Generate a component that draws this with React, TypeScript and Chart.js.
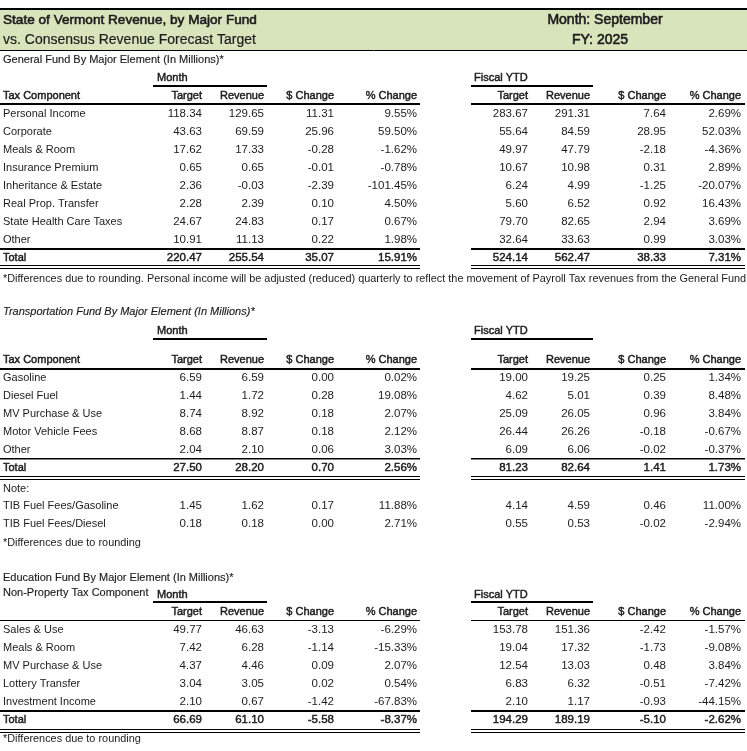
import React, { useEffect, useRef } from "react";
import { Chart, registerables } from "chart.js";

Chart.register(...registerables);

const W = 747;
const H = 751;

// ---------- Header ----------
const titleLines = ["State of Vermont Revenue, by Major Fund", "vs. Consensus Revenue Forecast Target"];
const periodLines = ["Month: September", "FY: 2025"];
const colHeaders = ["Target", "Revenue", "$ Change", "% Change"];

// ---------- General Fund ----------
const gfTitle = "General Fund By Major Element (In Millions)*";
const gfCategories = ["Personal Income", "Corporate", "Meals & Room", "Insurance Premium", "Inheritance & Estate", "Real Prop. Transfer", "State Health Care Taxes", "Other", "Total"];
const gfMonthTarget = [118.34, 43.63, 17.62, 0.65, 2.36, 2.28, 24.67, 10.91, 220.47];
const gfMonthRevenue = [129.65, 69.59, 17.33, 0.65, -0.03, 2.39, 24.83, 11.13, 255.54];
const gfMonthChange = [11.31, 25.96, -0.28, -0.01, -2.39, 0.10, 0.17, 0.22, 35.07];
const gfMonthPct = [9.55, 59.50, -1.62, -0.78, -101.45, 4.50, 0.67, 1.98, 15.91];
const gfYtdTarget = [283.67, 55.64, 49.97, 10.67, 6.24, 5.60, 79.70, 32.64, 524.14];
const gfYtdRevenue = [291.31, 84.59, 47.79, 10.98, 4.99, 6.52, 82.65, 33.63, 562.47];
const gfYtdChange = [7.64, 28.95, -2.18, 0.31, -1.25, 0.92, 2.94, 0.99, 38.33];
const gfYtdPct = [2.69, 52.03, -4.36, 2.89, -20.07, 16.43, 3.69, 3.03, 7.31];
const gfFootnote = "*Differences due to rounding. Personal income will be adjusted (reduced) quarterly to reflect the movement of Payroll Tax revenues from the General Fund to the Education Fund.";

// ---------- Transportation Fund ----------
const tfTitle = "Transportation Fund By Major Element (In Millions)*";
const tfCategories = ["Gasoline", "Diesel Fuel", "MV Purchase & Use", "Motor Vehicle Fees", "Other", "Total"];
const tfMonthTarget = [6.59, 1.44, 8.74, 8.68, 2.04, 27.50];
const tfMonthRevenue = [6.59, 1.72, 8.92, 8.87, 2.10, 28.20];
const tfMonthChange = [0.00, 0.28, 0.18, 0.18, 0.06, 0.70];
const tfMonthPct = [0.02, 19.08, 2.07, 2.12, 3.03, 2.56];
const tfYtdTarget = [19.00, 4.62, 25.09, 26.44, 6.09, 81.23];
const tfYtdRevenue = [19.25, 5.01, 26.05, 26.26, 6.06, 82.64];
const tfYtdChange = [0.25, 0.39, 0.96, -0.18, -0.02, 1.41];
const tfYtdPct = [1.34, 8.48, 3.84, -0.67, -0.37, 1.73];
const tibNote = "Note:";
const tibCategories = ["TIB Fuel Fees/Gasoline", "TIB Fuel Fees/Diesel"];
const tibMonthTarget = [1.45, 0.18];
const tibMonthRevenue = [1.62, 0.18];
const tibMonthChange = [0.17, 0.00];
const tibMonthPct = [11.88, 2.71];
const tibYtdTarget = [4.14, 0.55];
const tibYtdRevenue = [4.59, 0.53];
const tibYtdChange = [0.46, -0.02];
const tibYtdPct = [11.00, -2.94];
const roundingNote = "*Differences due to rounding";

// ---------- Education Fund ----------
const efTitle = "Education Fund By Major Element (In Millions)*";
const efSubTitle = "Non-Property Tax Component";
const efCategories = ["Sales & Use", "Meals & Room", "MV Purchase & Use", "Lottery Transfer", "Investment Income", "Total"];
const efMonthTarget = [49.77, 7.42, 4.37, 3.04, 2.10, 66.69];
const efMonthRevenue = [46.63, 6.28, 4.46, 3.05, 0.67, 61.10];
const efMonthChange = [-3.13, -1.14, 0.09, 0.02, -1.42, -5.58];
const efMonthPct = [-6.29, -15.33, 2.07, 0.54, -67.83, -8.37];
const efYtdTarget = [153.78, 19.04, 12.54, 6.83, 2.10, 194.29];
const efYtdRevenue = [151.36, 17.32, 13.03, 6.32, 1.17, 189.19];
const efYtdChange = [-2.42, -1.73, 0.48, -0.51, -0.93, -5.10];
const efYtdPct = [-1.57, -9.08, 3.84, -7.42, -44.15, -2.62];

// ---------- Styling / layout ----------
const FAM = "'Liberation Sans', Arial, sans-serif";
const F_BODY = `11px ${FAM}`;
const F_NUM = `11.5px ${FAM}`;
const F_NOTE = `10.9px ${FAM}`;
const F_ITAL = `italic 11px ${FAM}`;
const F_TITLE = `14px ${FAM}`;
const F_TITLE1 = `13.6px ${FAM}`;
const MED = 0.45; // stroke width to emulate a medium weight
const TEXT = "#1c1c1c";
const GREEN = "#D8E4BC";
const COL_RIGHT = [202, 264, 334, 417, 528, 590, 666, 741];
const LABEL_X = 3;
const ROW_H = 18;

type Item = { x: number; y: number; text: string; align: CanvasTextAlign; font: string; stroke: number };
type Line = { x1: number; x2: number; top: number; w: number };

const fmt = (v: number) => v.toFixed(2);
const pct = (v: number) => v.toFixed(2) + "%";

function buildLayout() {
  const items: Item[] = [];
  const lines: Line[] = [];
  const put = (x: number, y: number, text: string, align: CanvasTextAlign, font: string, stroke = 0) =>
    items.push({ x, y, text, align, font, stroke });
  const splitLine = (top: number, w: number) => {
    lines.push({ x1: 0, x2: 420, top, w });
    lines.push({ x1: 471, x2: 745, top, w });
  };
  const dataRows = (y0: number, cats: string[], cols: number[][], totalIdx: number) => {
    cats.forEach((c, i) => {
      const y = y0 + i * ROW_H;
      const s = i === totalIdx ? MED : 0;
      put(LABEL_X, y, c, "left", F_BODY, s);
      cols.forEach((col, k) => {
        const t = k % 4 === 3 ? pct(col[i]) : fmt(col[i]);
        put(COL_RIGHT[k], y, t, "right", F_NUM, s);
      });
    });
  };
  const periodHead = (y: number, lineTop: number, lw: number) => {
    put(157, y, "Month", "left", F_BODY, MED);
    put(474, y, "Fiscal YTD", "left", F_BODY, MED);
    lines.push({ x1: 153, x2: 267, top: lineTop, w: lw });
    lines.push({ x1: 471, x2: 593, top: lineTop, w: lw });
  };
  const colHead = (y: number, withLabel: boolean) => {
    if (withLabel) put(LABEL_X, y, "Tax Component", "left", F_BODY, MED);
    COL_RIGHT.forEach((x, k) => put(x, y, colHeaders[k % 4], "right", F_BODY, MED));
  };

  // Banner
  lines.push({ x1: 0, x2: W, top: 8, w: 2 });
  lines.push({ x1: 0, x2: W, top: 50, w: 1 });
  put(LABEL_X, 20, titleLines[0], "left", F_TITLE1, 0.6);
  put(LABEL_X, 40, titleLines[1], "left", F_TITLE, 0.2);
  put(605, 20, periodLines[0], "center", F_TITLE, 0.6);
  put(600, 40, periodLines[1], "center", F_TITLE, 0.6);

  // General Fund
  put(LABEL_X, 60, gfTitle, "left", F_BODY, 0.15);
  periodHead(78, 85, 2);
  colHead(96, true);
  splitLine(103, 2);
  dataRows(114, gfCategories, [gfMonthTarget, gfMonthRevenue, gfMonthChange, gfMonthPct, gfYtdTarget, gfYtdRevenue, gfYtdChange, gfYtdPct], gfCategories.length - 1);
  splitLine(248, 2);
  splitLine(265, 1);
  splitLine(268, 1);
  put(LABEL_X, 279, gfFootnote, "left", F_NOTE);

  // Transportation Fund
  put(LABEL_X, 312, tfTitle, "left", F_ITAL, 0.15);
  periodHead(331, 338, 2);
  colHead(360, true);
  splitLine(368, 2);
  dataRows(378, tfCategories, [tfMonthTarget, tfMonthRevenue, tfMonthChange, tfMonthPct, tfYtdTarget, tfYtdRevenue, tfYtdChange, tfYtdPct], tfCategories.length - 1);
  splitLine(458, 1.5);
  splitLine(476, 1);
  splitLine(479, 1);
  put(LABEL_X, 489, tibNote, "left", F_BODY);
  dataRows(506, tibCategories, [tibMonthTarget, tibMonthRevenue, tibMonthChange, tibMonthPct, tibYtdTarget, tibYtdRevenue, tibYtdChange, tibYtdPct], -1);
  put(LABEL_X, 543, roundingNote, "left", F_NOTE);

  // Education Fund
  put(LABEL_X, 578, efTitle, "left", F_BODY, 0.15);
  put(LABEL_X, 593, efSubTitle, "left", F_BODY, 0.15);
  periodHead(595, 601, 2);
  colHead(612, false);
  splitLine(620, 1);
  dataRows(630, efCategories, [efMonthTarget, efMonthRevenue, efMonthChange, efMonthPct, efYtdTarget, efYtdRevenue, efYtdChange, efYtdPct], efCategories.length - 1);
  splitLine(710, 2);
  splitLine(729, 1);
  splitLine(732, 1);
  put(LABEL_X, 739, roundingNote, "left", F_NOTE);

  return { items, lines };
}

const tablePlugin = {
  id: "tablePlugin",
  beforeDatasetsDraw(chart: any) {
    const { ctx } = chart;
    const xs = chart.scales.x;
    const ys = chart.scales.y;
    const lines: Line[] = chart.options.plugins.tablePlugin.lines;
    ctx.save();
    const bx0 = xs.getPixelForValue(0);
    const bx1 = xs.getPixelForValue(W);
    const by0 = ys.getPixelForValue(10);
    const by1 = ys.getPixelForValue(50);
    ctx.fillStyle = GREEN;
    ctx.fillRect(bx0, by0, bx1 - bx0, by1 - by0);
    ctx.strokeStyle = "#000";
    lines.forEach((l) => {
      const yc = ys.getPixelForValue(l.top + l.w / 2);
      ctx.lineWidth = l.w;
      ctx.beginPath();
      ctx.moveTo(xs.getPixelForValue(l.x1), yc);
      ctx.lineTo(xs.getPixelForValue(l.x2), yc);
      ctx.stroke();
    });
    ctx.restore();
  },
  afterDatasetsDraw(chart: any) {
    const { ctx } = chart;
    ctx.save();
    ctx.fillStyle = TEXT;
    ctx.strokeStyle = TEXT;
    ctx.lineJoin = "round";
    ctx.textBaseline = "middle";
    chart.data.datasets.forEach((ds: any, di: number) => {
      const meta = chart.getDatasetMeta(di);
      meta.data.forEach((el: any, i: number) => {
        ctx.font = ds.fonts[i];
        ctx.textAlign = ds.aligns[i];
        ctx.fillText(ds.labels[i], el.x, el.y);
        if (ds.strokes[i] > 0) {
          ctx.lineWidth = ds.strokes[i];
          ctx.strokeText(ds.labels[i], el.x, el.y);
        }
      });
    });
    ctx.restore();
  },
};

export default function App() {
  const ref = useRef<HTMLCanvasElement | null>(null);
  useEffect(() => {
    document.body.style.margin = "0";
    const { items, lines } = buildLayout();
    const chart = new Chart(ref.current as HTMLCanvasElement, {
      type: "scatter",
      data: {
        datasets: [
          {
            label: "cells",
            data: items.map((it) => ({ x: it.x, y: it.y })),
            labels: items.map((it) => it.text),
            fonts: items.map((it) => it.font),
            aligns: items.map((it) => it.align),
            strokes: items.map((it) => it.stroke),
            pointRadius: 0,
            pointHoverRadius: 0,
            clip: false,
          } as any,
        ],
      },
      options: {
        animation: false,
        responsive: false,
        maintainAspectRatio: false,
        events: [],
        layout: { padding: 0 },
        scales: {
          x: { type: "linear", min: 0, max: W, display: false },
          y: { type: "linear", min: 0, max: H, reverse: true, display: false },
        },
        plugins: {
          legend: { display: false },
          tooltip: { enabled: false },
          tablePlugin: { lines },
        } as any,
      },
      plugins: [tablePlugin],
    });
    return () => chart.destroy();
  }, []);
  return (
    <div style={{ width: W, height: H, background: "#fff" }}>
      <canvas ref={ref} width={W} height={H} style={{ display: "block" }} />
    </div>
  );
}
